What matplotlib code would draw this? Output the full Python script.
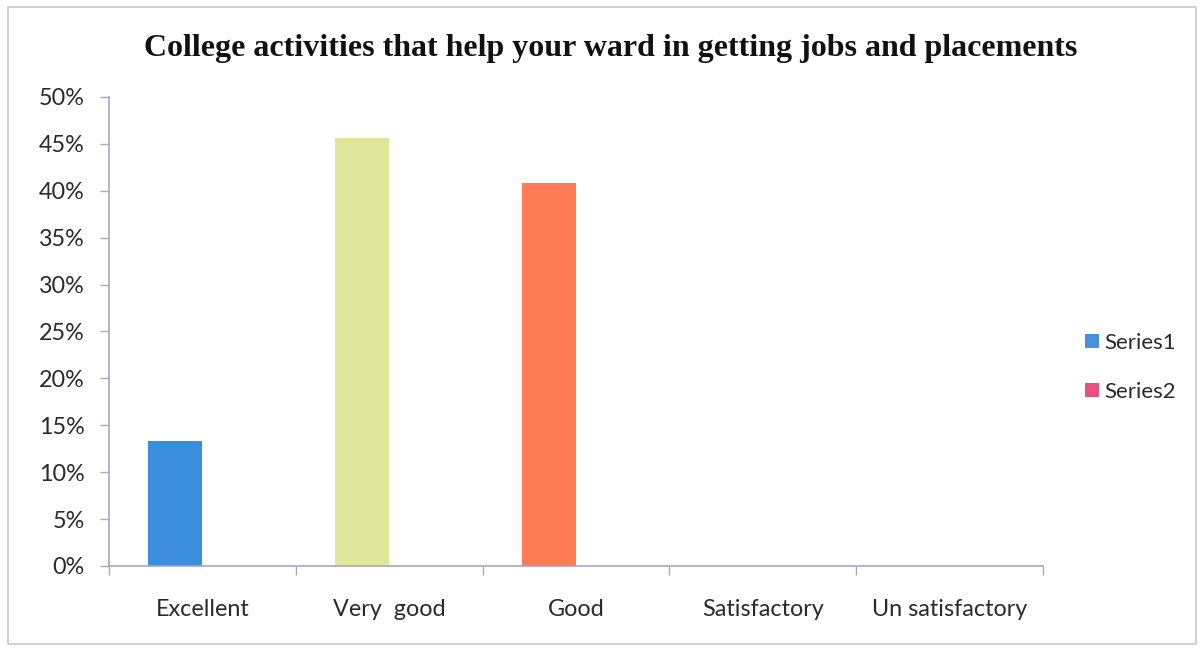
import matplotlib.pyplot as plt
from matplotlib.patches import Patch, Rectangle
from matplotlib.ticker import FuncFormatter, MultipleLocator
import numpy as np

# Data
categories = ['Excellent', 'Very  good', 'Good', 'Satisfactory', 'Un satisfactory']
series1 = [0.133, 0.456, 0.408, 0.0, 0.0]
series2 = [0.0, 0.0, 0.0, 0.0, 0.0]
bar_colors = ['#3d8ddf', '#dfe69b', '#fd7c56', '#3d8ddf', '#3d8ddf']
legend_names = ['Series1', 'Series2']
legend_colors = ['#4a8fdc', '#e6527f']

axis_col = '#a8a6c0'
text_col = '#2a2a2a'

fig = plt.figure(figsize=(12.02, 6.51), dpi=100)
ax = fig.add_axes([0.0907, 0.1306, 0.777, 0.7204])

x = np.arange(len(categories))
w = 0.29
ax.bar(x - w / 2, series1, width=w, color=bar_colors, zorder=2)
ax.bar(x + w / 2, series2, width=w, color=legend_colors[1], zorder=2)

ax.set_xlim(-0.5, len(categories) - 0.5)
ax.set_ylim(0, 0.5)
ax.yaxis.set_major_locator(MultipleLocator(0.05))
ax.yaxis.set_major_formatter(FuncFormatter(lambda v, p: '{:.0f}%'.format(v * 100)))

ax.set_xticks(x)
ax.set_xticklabels(categories)
ax.set_xticks(np.arange(-0.5, len(categories)), minor=True)
ax.tick_params(axis='x', which='major', length=0, pad=24, labelsize=16.8, labelcolor=text_col)
ax.tick_params(axis='x', which='minor', length=6.5, color=axis_col, width=1)
ax.tick_params(axis='y', length=6.5, color=axis_col, width=1, pad=11, labelsize=16.8, labelcolor=text_col)
for lab in ax.get_xticklabels() + ax.get_yticklabels():
    lab.set_family('Lato')

for s in ['top', 'right']:
    ax.spines[s].set_visible(False)
for s in ['left', 'bottom']:
    ax.spines[s].set_color(axis_col)
    ax.spines[s].set_linewidth(1.2)

fig.text(0.508, 0.926, 'College activities that help your ward in getting jobs and placements',
         ha='center', va='center', family='Liberation Serif', weight='bold',
         fontsize=23, color='#111111')

handles = [Patch(facecolor=c, edgecolor='none') for c in legend_colors]
fig.legend(handles, legend_names, loc='center left', bbox_to_anchor=(0.903, 0.436),
           frameon=False, prop={'family': 'Lato', 'size': 16}, handlelength=0.6,
           handleheight=0.6, handletextpad=0.25, labelspacing=1.3, labelcolor=text_col,
           borderpad=0, borderaxespad=0)

# chart area frame
fig.patches.append(Rectangle((0.007, 0.01), 0.988, 0.98, transform=fig.transFigure,
                             fill=False, edgecolor='#c8c6d6', linewidth=1.2))

fig.savefig('out.png', dpi=100)
